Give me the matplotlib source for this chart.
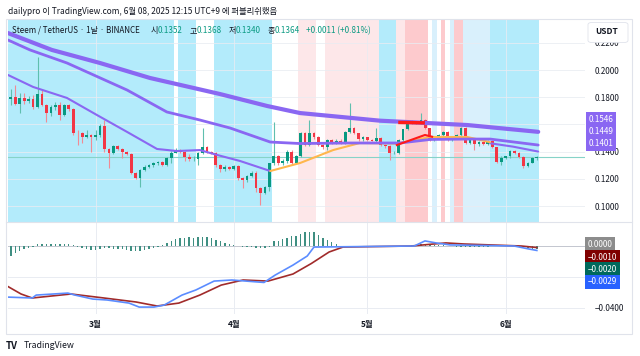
import numpy as np
import pandas as pd
import matplotlib
matplotlib.use("Agg")
import matplotlib.pyplot as plt
from matplotlib.patches import Rectangle, FancyBboxPatch
from matplotlib.lines import Line2D

plt.rcParams['font.family'] = ['Noto Sans CJK KR', 'DejaVu Sans']

# ---------------- data ----------------
start_date = "2025-02-10"
first_open = 0.1790
closes = [
    0.1802, 0.1751, 0.1797, 0.1775, 0.1784, 0.1726, 0.1824, 0.1743, 0.1682, 0.1726,
    0.1743, 0.1670, 0.1743, 0.1714, 0.1540, 0.1535, 0.1506, 0.1523, 0.1508, 0.1523,
    0.1589, 0.1418, 0.1393, 0.1442, 0.1418, 0.1400, 0.1383, 0.1241, 0.1209, 0.1265,
    0.1290, 0.1300, 0.1315, 0.1324, 0.1300, 0.1351, 0.1393, 0.1412, 0.1398, 0.1358,
    0.1345, 0.1350, 0.1388, 0.1432, 0.1400, 0.1393, 0.1302, 0.1271, 0.1290, 0.1271,
    0.1295, 0.1204, 0.1190, 0.1221, 0.1246, 0.1130, 0.1100, 0.1138, 0.1315, 0.1368,
    0.1315, 0.1335, 0.1400, 0.1319, 0.1368, 0.1535, 0.1449, 0.1535, 0.1508, 0.1449,
    0.1434, 0.1486, 0.1464, 0.1482, 0.1464, 0.1547, 0.1572, 0.1535, 0.1491, 0.1506,
    0.1486, 0.1481, 0.1498, 0.1449, 0.1442, 0.1388, 0.1394, 0.1486, 0.1565, 0.1620,
    0.1609, 0.1612, 0.1633, 0.1572, 0.1491, 0.1498, 0.1523, 0.1547, 0.1486, 0.1503,
    0.1523, 0.1576, 0.1462, 0.1486, 0.1454, 0.1471, 0.1457, 0.1479, 0.1432, 0.1327,
    0.1356, 0.1365, 0.1405, 0.1393, 0.1363, 0.1295, 0.1319, 0.1352, 0.1364]
highs = [
    0.1860, 0.1890, 0.1831, 0.1831, 0.1809, 0.1817, 0.2096, 0.1860, 0.1750, 0.1743,
    0.1768, 0.1768, 0.1751, 0.1751, 0.1720, 0.1560, 0.1545, 0.1560, 0.1530, 0.1560,
    0.1604, 0.1633, 0.1425, 0.1449, 0.1450, 0.1425, 0.1405, 0.1390, 0.1250, 0.1273,
    0.1305, 0.1308, 0.1325, 0.1335, 0.1335, 0.1360, 0.1407, 0.1425, 0.1420, 0.1405,
    0.1385, 0.1365, 0.1400, 0.1572, 0.1440, 0.1405, 0.1400, 0.1310, 0.1300, 0.1295,
    0.1300, 0.1300, 0.1215, 0.1230, 0.1258, 0.1258, 0.1140, 0.1150, 0.1320, 0.1620,
    0.1375, 0.1345, 0.1412, 0.1410, 0.1375, 0.1545, 0.1545, 0.1633, 0.1545, 0.1515,
    0.1455, 0.1495, 0.1495, 0.1490, 0.1490, 0.1555, 0.1760, 0.1580, 0.1540, 0.1515,
    0.1510, 0.1495, 0.1572, 0.1505, 0.1455, 0.1450, 0.1405, 0.1495, 0.1570, 0.1630,
    0.1630, 0.1625, 0.1682, 0.1640, 0.1575, 0.1505, 0.1530, 0.1555, 0.1555, 0.1510,
    0.1530, 0.1585, 0.1585, 0.1495, 0.1495, 0.1480, 0.1478, 0.1488, 0.1485, 0.1435,
    0.1365, 0.1372, 0.1412, 0.1410, 0.1398, 0.1368, 0.1325, 0.1358, 0.1368]
lows = [
    0.1740, 0.1740, 0.1684, 0.1750, 0.1758, 0.1717, 0.1721, 0.1735, 0.1620, 0.1662,
    0.1707, 0.1633, 0.1662, 0.1699, 0.1523, 0.1449, 0.1464, 0.1501, 0.1400, 0.1486,
    0.1508, 0.1400, 0.1280, 0.1383, 0.1410, 0.1354, 0.1375, 0.1236, 0.1203, 0.1143,
    0.1255, 0.1282, 0.1285, 0.1305, 0.1295, 0.1295, 0.1315, 0.1388, 0.1390, 0.1330,
    0.1330, 0.1335, 0.1302, 0.1380, 0.1390, 0.1380, 0.1288, 0.1253, 0.1260, 0.1262,
    0.1262, 0.1190, 0.1130, 0.1180, 0.1215, 0.1106, 0.1008, 0.1089, 0.1110, 0.1300,
    0.1300, 0.1300, 0.1320, 0.1310, 0.1315, 0.1360, 0.1440, 0.1440, 0.1495, 0.1440,
    0.1420, 0.1412, 0.1455, 0.1455, 0.1455, 0.1455, 0.1540, 0.1530, 0.1480, 0.1480,
    0.1480, 0.1475, 0.1470, 0.1440, 0.1430, 0.1339, 0.1380, 0.1385, 0.1480, 0.1560,
    0.1600, 0.1600, 0.1605, 0.1565, 0.1480, 0.1480, 0.1490, 0.1515, 0.1475, 0.1480,
    0.1495, 0.1515, 0.1455, 0.1455, 0.1412, 0.1445, 0.1450, 0.1450, 0.1425, 0.1320,
    0.1302, 0.1345, 0.1355, 0.1385, 0.1355, 0.1278, 0.1288, 0.1315, 0.1340]

# moving-average lines (day index, price)
ma_a_days = [-0.63, 9.2, 20.0, 31.2, 46.9, 57.5, 64.9, 82.8, 102.4, 118.3]
ma_a_vals = [0.2272, 0.2148, 0.2052, 0.1942, 0.1824, 0.1736, 0.1684, 0.1628, 0.1596, 0.1546]
ma_b_days = [-0.63, 4.3, 12.6, 26.1, 35.0, 42.4, 49.2, 58.2, 64.9, 76.1, 87.3, 94.1, 102.4, 107.5, 118.3]
ma_b_vals = [0.2221, 0.2148, 0.2052, 0.1853, 0.1692, 0.1633, 0.1574, 0.1471, 0.1460, 0.1464, 0.1464, 0.1490, 0.1493, 0.1493, 0.1449]
ma_c1_days = [-0.63, 5.0, 12.6, 19.3, 26.1, 32.8, 37.3, 42.4, 46.3, 51.4, 58.2]
ma_c1_vals = [0.1964, 0.1876, 0.1795, 0.1670, 0.1545, 0.1420, 0.1405, 0.1412, 0.1376, 0.1332, 0.1258]
ma_c2_days = [107.5, 112.7, 118.3]
ma_c2_vals = [0.1462, 0.1437, 0.1401]
ma_orange_days = [58.2, 64.9, 72.3, 78.3, 86.6, 94.1, 102.4, 107.5]
ma_orange_vals = [0.1258, 0.1317, 0.1412, 0.1464, 0.1460, 0.1508, 0.1508, 0.1470]
ma_red_days = [86.6, 92.9, 94.5]
ma_red_vals = [0.1449, 0.1523, 0.1510]
ma_red_top_days = [87.3, 92.5]
ma_red_top_vals = [0.1615, 0.1612]

# background bands: (start, end, kind)
bands = [(-1.0, 36.5, 'blue'), (37.5, 41.5, 'blue'), (45.5, 58.5, 'blue'),
         (64.5, 68.5, 'lpink'), (70.5, 82.5, 'lpink'), (82.5, 86.5, 'blue'),
         (86.5, 88.5, 'lpink'), (88.5, 93.5, 'pink'), (94.5, 95.5, 'pblue'),
         (96.5, 97.5, 'pink'), (98.5, 99.5, 'pblue'), (99.5, 101.5, 'pink'),
         (101.5, 107.5, 'pblue'), (107.5, 118.5, 'blue')]
band_colors = {'blue': '#b3ebfb', 'lpink': '#fde7e9', 'pink': '#fdcacd', 'pblue': '#d9f0fc'}

# MACD
hist = [
    -0.0063, -0.0045, -0.0032, -0.0022, -0.0012, -0.0004, 0.0010, 0.0016, 0.0014, 0.0012,
    0.0012, 0.0011, 0.0012, 0.0010, 0.0004, -0.0008, -0.0014, -0.0020, -0.0025, -0.0024,
    -0.0018, -0.0015, -0.0016, -0.0018, -0.0020, -0.0022, -0.0024, -0.0030, -0.0034, -0.0032,
    -0.0026, -0.0019, -0.0012, -0.0005, 0.0008, 0.0020, 0.0035, 0.0045, 0.0052, 0.0055,
    0.0056, 0.0055, 0.0057, 0.0058, 0.0057, 0.0052, 0.0042, 0.0030, 0.0020, 0.0014,
    0.0004, -0.0003, -0.0006, -0.0008, -0.0008, -0.0010, -0.0012, -0.0016, -0.0005, 0.0030,
    0.0035, 0.0045, 0.0055, 0.0062, 0.0068, 0.0078, 0.0088, 0.0094, 0.0092, 0.0070,
    0.0052, 0.0040, 0.0025, 0.0012, 0.0003, 0.0002, 0.0001, 0.0001, 0.0, 0.0,
    0.0, 0.0, 0.0, 0.0, 0.0, 0.0, 0.0, 0.0, 0.0001, 0.0002,
    0.0004, 0.0007, 0.0010, 0.0012, 0.0010, 0.0008, 0.0006, 0.0005, 0.0003, 0.0001,
    -0.0004, -0.0006, -0.0008, -0.0008, -0.0007, -0.0006, -0.0005, -0.0004, -0.0003, -0.0002,
    -0.0001, 0.0, 0.0, 0.0, -0.0005, -0.0009, -0.0013, -0.0017, -0.0020]
macd_days = [-0.85, 4.8, 5.7, 12.8, 14.4, 18.4, 21.6, 26.5, 28.8, 32.1, 34.4, 38.4, 41.5,
             45.6, 49.6, 56.8, 59.3, 63.3, 66.5, 68.0, 90.5, 92.9, 95.4, 98.5, 112.9, 116.3, 118.0]
macd_vals = [-0.0332, -0.0338, -0.0319, -0.0306, -0.0319, -0.0345, -0.0351, -0.0371, -0.0397,
             -0.0397, -0.0384, -0.0319, -0.0286, -0.0228, -0.0221, -0.0237, -0.0189, -0.0124,
             -0.0065, -0.0007, 0.0, 0.0033, 0.0020, 0.0007, 0.0, -0.0020, -0.0029]
sig_days = [-0.85, 2.3, 4.8, 13.5, 20.9, 28.1, 32.8, 37.7, 42.4, 47.2, 52.1, 57.7, 63.3,
            67.4, 71.4, 74.5, 89.8, 97.6, 101.7, 114.5, 118.0]
sig_vals = [-0.0260, -0.0312, -0.0338, -0.0312, -0.0338, -0.0364, -0.0390, -0.0371, -0.0319,
            -0.0254, -0.0221, -0.0228, -0.0182, -0.0114, -0.0039, -0.0007, 0.0, 0.0020,
            0.0013, 0.0, -0.0010]

price_ticks = [0.10, 0.12, 0.14, 0.16, 0.18, 0.20, 0.22]
price_tick_labels = ['0.1000', '0.1200', '0.1400', '', '0.1800', '0.2000', '0.2200']
macd_ticks = [0.0, -0.02, -0.04]
macd_tick_labels = ['', '', '−0.0400']
month_labels = ['3월', '4월', '5월', '6월']
month_dates = ['2025-03-01', '2025-04-01', '2025-05-01', '2025-06-01']
last_close = 0.1364
ma_labels = ['0.1546', '0.1449', '0.1401']
macd_labels = [('0.0000', '#8c8c8c'), ('−0.0010', '#7f0000'), ('−0.0020', '#00695c'), ('−0.0029', '#2962ff')]

# ---------------- figure ----------------
W, H = 640, 356
fig = plt.figure(figsize=(6.4, 3.56), dpi=100)
fig.patch.set_facecolor('white')

def R(x0, y0, x1, y1):
    return [x0 / W, 1 - y1 / H, (x1 - x0) / W, (y1 - y0) / H]

def FX(x):
    return x / W

def FY(y):
    return 1 - y / H

ax = fig.add_axes(R(8, 20, 585, 222))
axm = fig.add_axes(R(8, 223, 585, 314), sharex=ax)

n = len(closes)
idx = np.arange(n)
dates = pd.date_range(start_date, periods=n, freq='D')
opens = [first_open] + closes[:-1]
month_pos = [(pd.Timestamp(d) - dates[0]).days for d in month_dates]

for a in (ax, axm):
    for s in a.spines.values():
        s.set_visible(False)
    a.set_facecolor('white')

# bands
for s, e, kind in bands:
    ax.axvspan(s, e, color=band_colors[kind], lw=0, zorder=0)

# grid
grid_c = '#e9ecf2'
for p in price_ticks:
    ax.axhline(p, color=grid_c, lw=0.7, zorder=0.5, alpha=0.8)
for m in month_pos:
    ax.axvline(m, color=grid_c, lw=0.7, zorder=0.5, alpha=0.8)
    axm.axvline(m, color=grid_c, lw=0.7, zorder=0.5)
for t in macd_ticks:
    axm.axhline(t, color=grid_c, lw=0.7, zorder=0.5)

# price line
ax.axhline(last_close, color='#86d3c8', lw=0.8, zorder=1.5)

# candles
up_c, dn_c = '#089981', '#f23645'
o = np.array(opens); c = np.array(closes)
h = np.maximum(np.array(highs), np.maximum(o, c))
l = np.minimum(np.array(lows), np.minimum(o, c))
cols = [up_c if cc >= oo else dn_c for oo, cc in zip(o, c)]
wick_cols = ['#5fbfae' if cc >= oo else '#f28a94' for oo, cc in zip(o, c)]
ax.vlines(idx, l, h, colors=wick_cols, lw=0.8, zorder=2)
body_bottom = np.minimum(o, c)
body_h = np.maximum(np.abs(c - o), 0.0004)
ax.bar(idx, body_h, bottom=body_bottom, width=0.62, color=cols, lw=0, zorder=3)

# MA lines
purple = '#8a67f2'
ax.plot(ma_c1_days, ma_c1_vals, color=purple, lw=1.5, zorder=4, solid_capstyle='round')
ax.plot(ma_c2_days, ma_c2_vals, color=purple, lw=1.5, zorder=4, solid_capstyle='round')
ax.plot(ma_orange_days, ma_orange_vals, color='#ffb74d', lw=1.5, zorder=4, solid_capstyle='round')
ax.plot(ma_b_days, ma_b_vals, color=purple, lw=2.0, zorder=4.5, solid_capstyle='round')
ax.plot(ma_a_days, ma_a_vals, color=purple, lw=3.0, zorder=4.5, solid_capstyle='round')
ax.plot(ma_red_days, ma_red_vals, color='#ff1a1a', lw=1.5, zorder=5)
ax.plot(ma_red_top_days, ma_red_top_vals, color='#ff1a1a', lw=2.5, zorder=5)

ax.set_xlim(-0.63, 128.8)
ax.set_ylim(0.08833, 0.2368)
ax.yaxis.tick_right()
ax.set_yticks(price_ticks)
ax.set_yticklabels(price_tick_labels)
ax.tick_params(axis='y', length=0, pad=7, labelsize=5.8, colors='#131722')
ax.tick_params(axis='x', length=0, labelbottom=False)

# MACD panel
axm.bar(idx, hist, width=0.32, color='#3f8f82', lw=0, zorder=2)
axm.axhline(0, color='#c3c6cf', lw=0.7, zorder=1.5)
axm.plot(sig_days, sig_vals, color='#a12b2b', lw=1.2, zorder=3)
axm.plot(macd_days, macd_vals, color='#5b8cff', lw=1.2, zorder=3.5)
axm.set_ylim(-0.0442, 0.01495)
axm.yaxis.tick_right()
axm.set_yticks(macd_ticks)
axm.set_yticklabels(macd_tick_labels)
axm.tick_params(axis='y', length=0, pad=7, labelsize=5.8, colors='#131722')
axm.set_xticks(month_pos)
axm.set_xticklabels(month_labels, fontweight='bold')
axm.tick_params(axis='x', length=0, pad=4, labelsize=6, colors='#131722')

# frame
fig.add_artist(Rectangle((FX(6), FY(334)), 626 / W, 315 / H, transform=fig.transFigure,
                         fill=False, ec='#e0e3eb', lw=0.8))
fig.add_artist(Line2D([FX(6), FX(632)], [FY(222.3), FY(222.3)], transform=fig.transFigure,
                      color='#e0e3eb', lw=0.8))

# value labels on axis
for i, t in enumerate(ma_labels):
    fig.text(FX(589), FY(119 + 12.5 * i), t, color='white', fontsize=5.8, va='center', ha='left',
             bbox=dict(boxstyle='square,pad=0.32', fc='#8a67f2', ec='none'), zorder=10)
for i, (t, colr) in enumerate(macd_labels):
    fig.text(FX(588), FY(244.5 + 12.5 * i), t, color='white', fontsize=5.8, va='center', ha='left',
             bbox=dict(boxstyle='square,pad=0.32', fc=colr, ec='none'), zorder=10)

# USDT box (covers most of the 0.2200 label, as in the original)
fig.add_artist(FancyBboxPatch((FX(588), FY(42.5)), 40 / W, 20 / H, transform=fig.transFigure,
                              boxstyle='round,pad=0,rounding_size=0.006', fc='white',
                              ec='#e0e3eb', lw=0.6, zorder=9))
fig.text(FX(595), FY(32), 'USDT', color='#131722', fontsize=6, va='center', ha='left',
         fontweight='bold', zorder=10)

# header
fig.text(FX(8), FY(11.5), 'dailypro 이 TradingView.com, 6월 08, 2025 12:15 UTC+9 에 퍼블리쉬했음',
         fontsize=6.0, color='#131722', va='center', ha='left')
green = '#089981'
legend_parts = [
    (12.5, 'Steem / TetherUS · 1날 · BINANCE', '#131722'),
    (150.5, '시', '#131722'), (157.5, '0.1352', green),
    (189.5, '고', '#131722'), (196.5, '0.1368', green),
    (228.5, '저', '#131722'), (235.5, '0.1340', green),
    (267.5, '종', '#131722'), (274.5, '0.1364', green),
    (306.5, '+0.0011 (+0.81%)', green),
]
for x, t, colr in legend_parts:
    fig.text(FX(x), FY(30.5), t, fontsize=5.8, color=colr, va='center', ha='left', zorder=10)

# footer logo
fig.text(FX(6), FY(346), 'TV', fontsize=7, fontweight='black', color='#131722', va='center', ha='left')
fig.text(FX(24), FY(346), 'TradingView', fontsize=6.3, color='#131722', va='center', ha='left')

fig.savefig('out.png', dpi=100, facecolor='white')
